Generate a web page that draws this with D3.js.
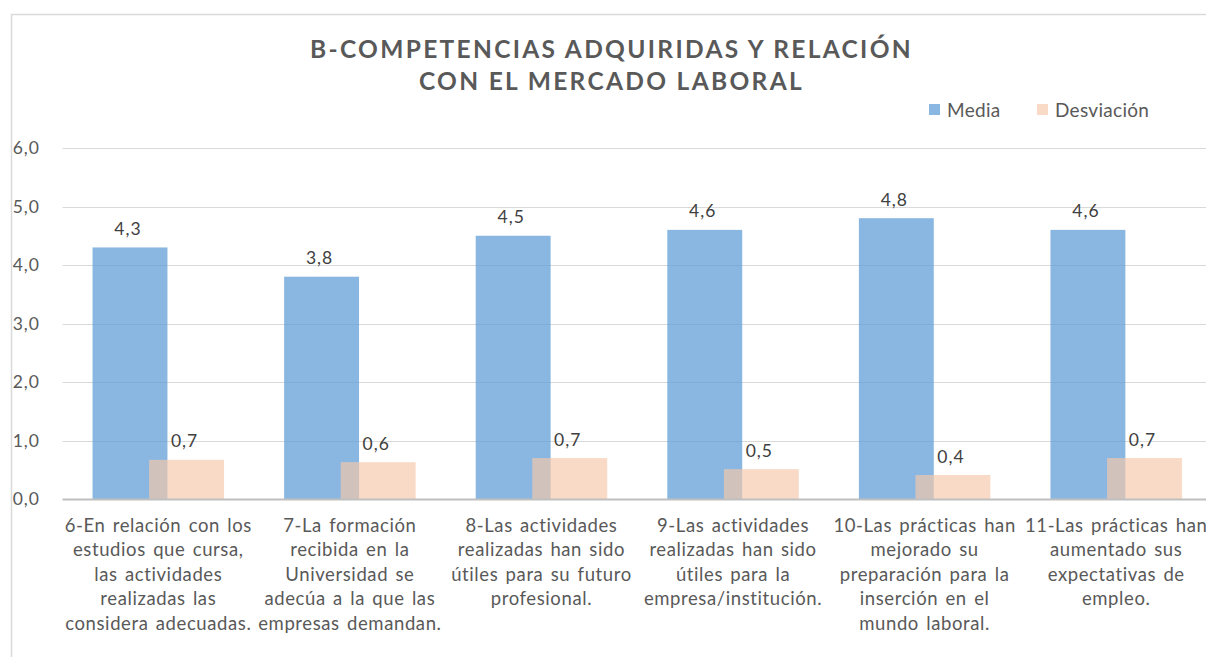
<!DOCTYPE html>
<html>
<head>
<meta charset="utf-8">
<script src="https://cdn.jsdelivr.net/npm/d3@7"></script>
<style>
  html, body { margin: 0; padding: 0; background: #fff; }
  svg { display: block; font-family: Lato, "Open Sans", sans-serif; }
</style>
</head>
<body>
<svg id="chart" width="1206" height="657"></svg>
<script>
// ---- data ----
const titleLines = ["B-COMPETENCIAS ADQUIRIDAS Y RELACIÓN", "CON EL MERCADO LABORAL"];
const categories = [
  ["6-En relación con los", "estudios que cursa,", "las actividades", "realizadas las", "considera adecuadas."],
  ["7-La formación", "recibida en la", "Universidad se", "adecúa a la que las", "empresas demandan."],
  ["8-Las actividades", "realizadas han sido", "útiles para su futuro", "profesional."],
  ["9-Las actividades", "realizadas han sido", "útiles para la", "empresa/institución."],
  ["10-Las prácticas han", "mejorado su", "preparación para la", "inserción en el", "mundo laboral."],
  ["11-Las prácticas han", "aumentado sus", "expectativas de", "empleo."]
];
const seriesNames = ["Media", "Desviación"];
const media = [4.3, 3.8, 4.5, 4.6, 4.8, 4.6];
const desviacion = [0.67, 0.63, 0.70, 0.51, 0.41, 0.70];
const yTicks = [0, 1, 2, 3, 4, 5, 6];

// ---- layout ----
const svg = d3.select("#chart");
const plot = { left: 62.5, right: 1212, top: 148, bottom: 499 };
const colors = ["rgb(91,155,213)", "rgb(246,200,170)"];
const opac = [0.72, 0.67];
const textColor = "#595959";

const loc = d3.formatLocale({ decimal: ",", thousands: ".", grouping: [3], currency: ["", "€"] });
const fmt = loc.format(".1f");

const x = d3.scaleBand().domain(d3.range(categories.length)).range([plot.left, plot.right]).padding(0);
const y = d3.scaleLinear().domain([0, 6]).range([plot.bottom, plot.top]);

// chart border
svg.append("rect").attr("x", 11.5).attr("y", 14.5).attr("width", 1400).attr("height", 800)
  .attr("fill", "none").attr("stroke", "#d9d9d9").attr("stroke-width", 1.5);

// title
const title = svg.append("g").attr("fill", textColor).attr("font-weight", 700).attr("font-size", 24.5)
  .attr("text-anchor", "middle");
const tl = title.selectAll("text").data(titleLines).join("text")
  .attr("x", 611.5).attr("y", (d, i) => 57.5 + i * 32)
  .text(d => d);
const w0 = tl.node().getComputedTextLength();
const ls = (603 - w0) / titleLines[0].length;
tl.attr("letter-spacing", ls + "px");

// legend
const legend = svg.append("g").attr("font-size", 19).attr("fill", textColor);
const legX = [929, 1037];
seriesNames.forEach((n, i) => {
  legend.append("rect").attr("x", legX[i]).attr("y", 104).attr("width", 11).attr("height", 11)
    .attr("fill", colors[i]).attr("fill-opacity", opac[i]);
  legend.append("text").attr("x", legX[i] + 18).attr("y", 116.5).attr("letter-spacing", "0.3px").text(n);
});

// gridlines
svg.append("g").selectAll("line").data(yTicks.filter(d => d > 0)).join("line")
  .attr("x1", plot.left).attr("x2", plot.right)
  .attr("y1", d => Math.round(y(d)) + 0.5).attr("y2", d => Math.round(y(d)) + 0.5)
  .attr("stroke", "#d9d9d9").attr("stroke-width", 1.2);

// y axis labels
const yAxis = d3.axisLeft(y).tickValues(yTicks).tickFormat(fmt).tickSize(0).tickPadding(0);
const ya = svg.append("g").attr("transform", "translate(40,0)").call(yAxis);
ya.select(".domain").remove();
ya.selectAll("text").attr("font-family", "Lato").attr("font-size", 17.5)
  .attr("letter-spacing", "1px").attr("fill", textColor);

// bars
const bw = x.bandwidth();
const barW = bw * 0.391;
const off = bw * 0.1477;
const series = [media, desviacion];
series.forEach((vals, s) => {
  const cx = i => x(i) + bw / 2 + (s === 0 ? -off : off);
  svg.append("g").selectAll("rect").data(vals).join("rect")
    .attr("x", (d, i) => cx(i) - barW / 2)
    .attr("width", barW)
    .attr("y", d => y(d))
    .attr("height", d => y(0) - y(d))
    .attr("fill", colors[s]).attr("fill-opacity", opac[s]);
  svg.append("g").selectAll("text").data(vals).join("text")
    .attr("x", (d, i) => cx(i) - 2)
    .attr("y", d => y(d) - 12.5)
    .attr("text-anchor", "middle").attr("font-size", 17.5).attr("letter-spacing", "1px")
    .attr("fill", "#404040")
    .text(d => fmt(d));
});

// x axis line
svg.append("line").attr("x1", plot.left).attr("x2", plot.right)
  .attr("y1", y(0) + 0.5).attr("y2", y(0) + 0.5)
  .attr("stroke", "#bfbfbf").attr("stroke-width", 2);

// category labels
const cl = svg.append("g").attr("font-size", 18.5).attr("fill", textColor).attr("text-anchor", "middle");
categories.forEach((lines, i) => {
  cl.append("g").selectAll("text").data(lines).join("text")
    .attr("x", x(i) + bw / 2)
    .attr("y", (d, j) => 532 + j * 24.4)
    .attr("letter-spacing", "0.6px")
    .attr("word-spacing", "2px")
    .text(d => d);
});
</script>
</body>
</html>
